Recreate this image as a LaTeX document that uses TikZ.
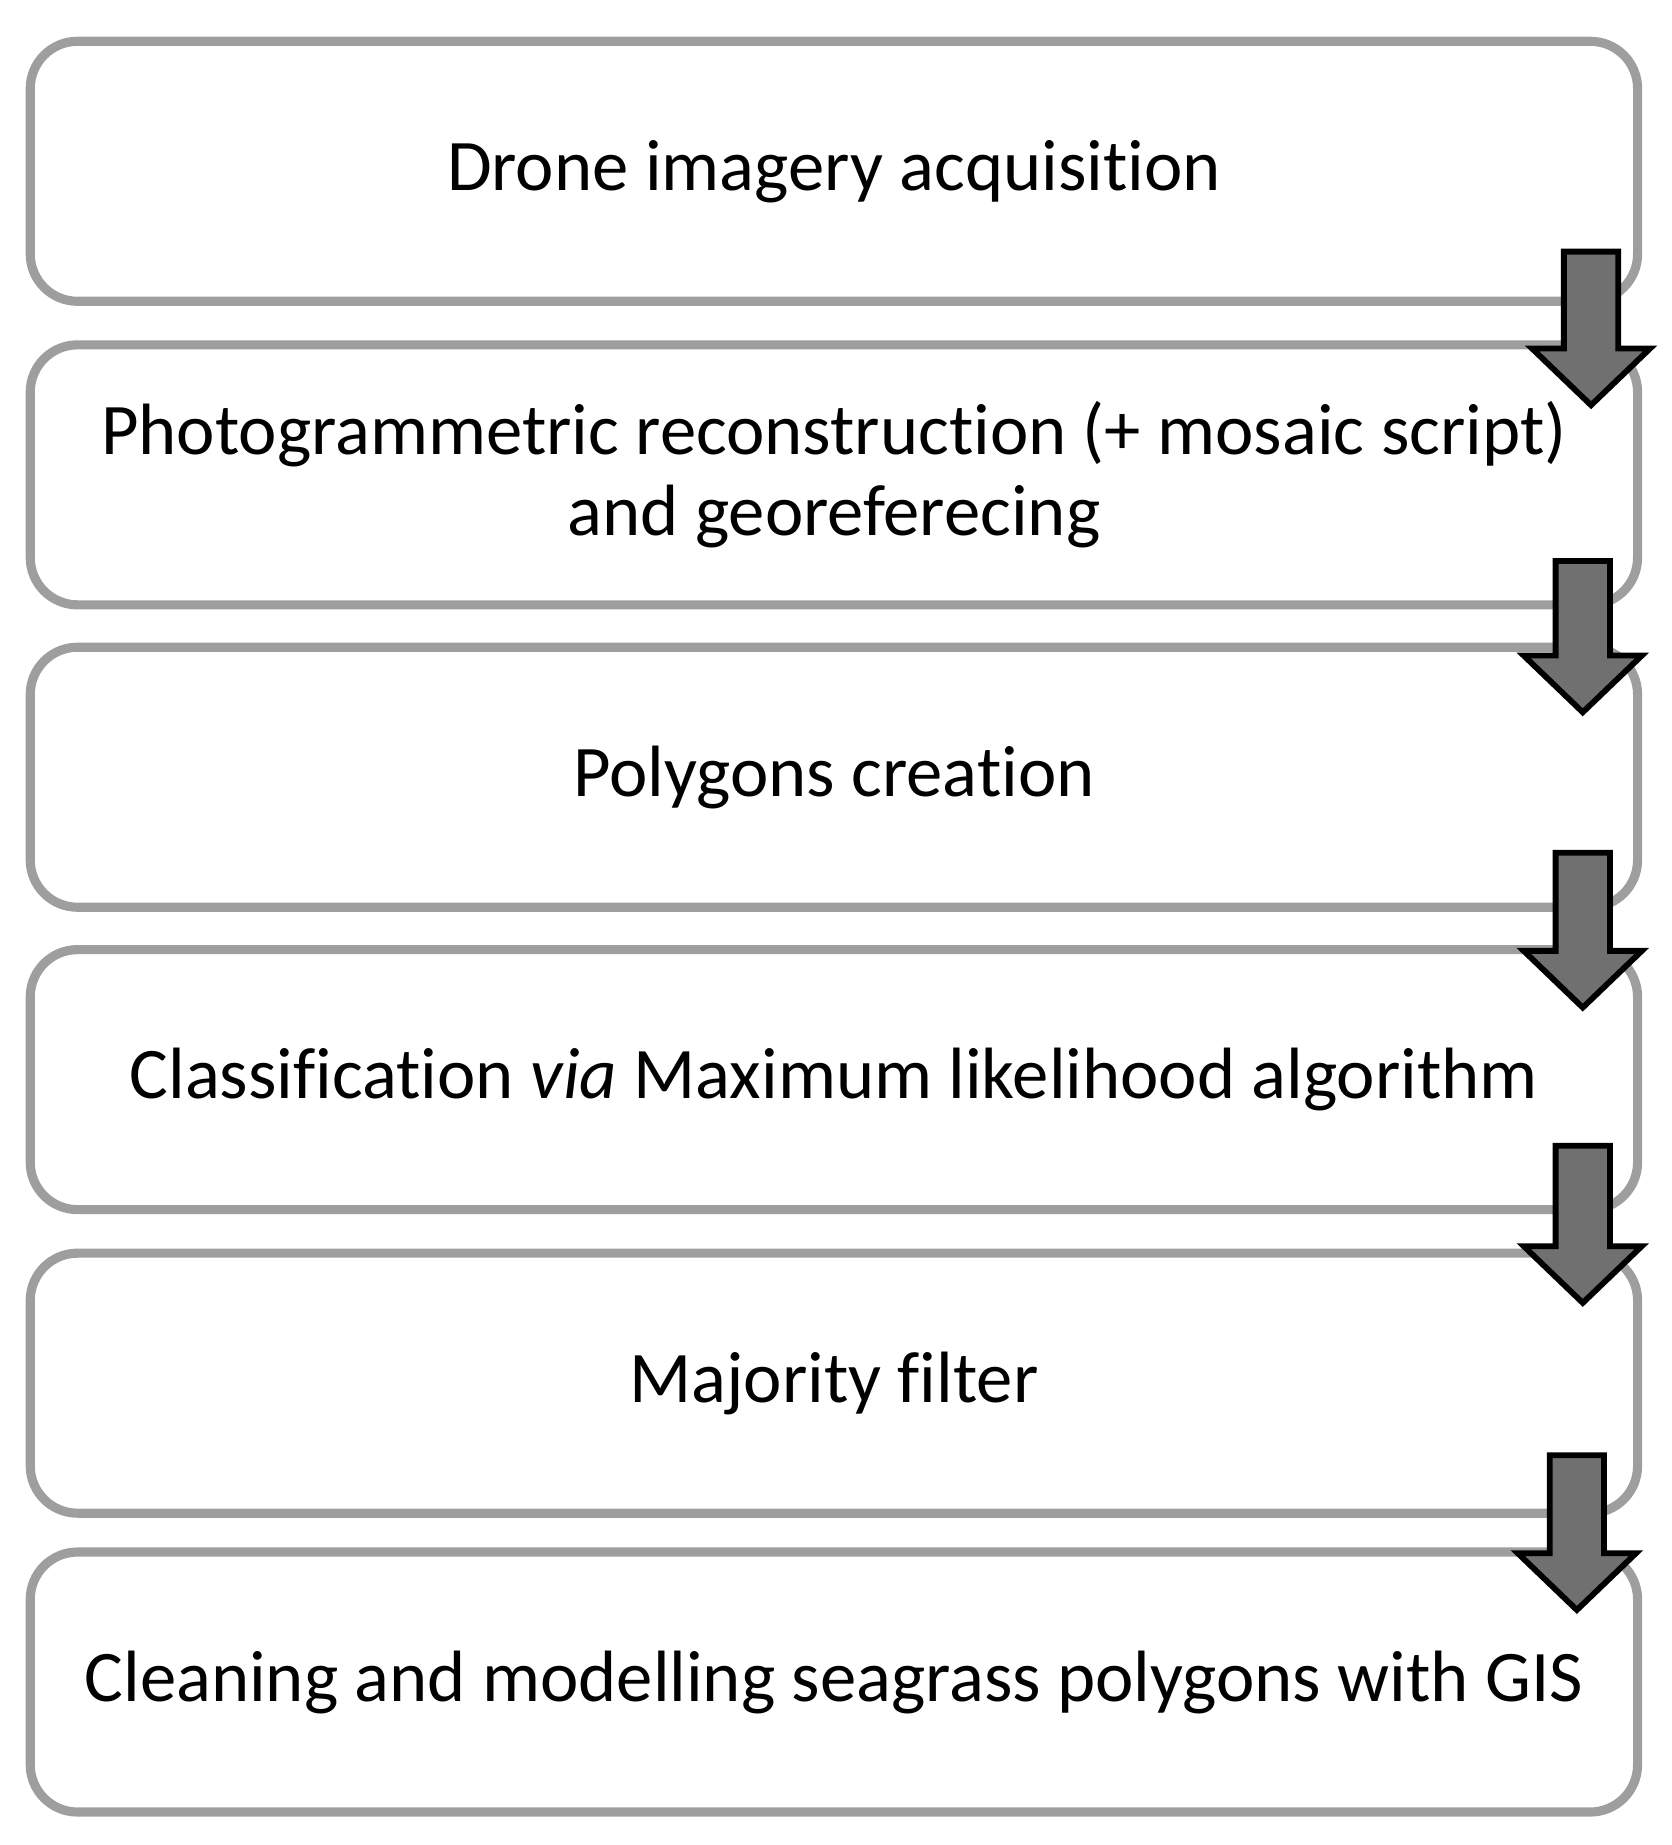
\documentclass[tikz,border=0pt]{standalone}
\usepackage{fontspec}
\setmainfont{Carlito}[Ligatures={NoCommon}]
\begin{document}
\begin{tikzpicture}[x=0.01cm,y=-0.01cm,
  box/.style={draw=black!38,line width=2.2pt,rounded corners=0.4cm,minimum width=13.6cm,minimum height=2.2cm,align=center,font=\fontsize{17.5}{19.5}\selectfont,inner sep=0pt},
  arr/.style={draw=black,line width=1.4pt,fill=black!56}]
\useasboundingbox (0,0) rectangle (1415,1562);
\node[box] (b1) at (706,145) {Drone imagery acquisition};
\node[box] (b2) at (706,402) {Photogrammetric reconstruction (+ mosaic script)\\and georeferecing};
\node[box] (b3) at (706,658) {Polygons creation};
\node[box] (b4) at (706,914) {Classification \textit{via} Maximum likelihood algorithm};
\node[box] (b5) at (706,1171) {Majority filter};
\node[box] (b6) at (706,1424) {Cleaning and modelling seagrass polygons with GIS};
\foreach \cx/\top/\hy [count=\i] in {1347/213/295,1340/475/555,1340/722/805,1340/970/1055,1335/1232/1315}{
  \draw[arr] (\cx-23,\top) -- (\cx+23,\top) -- (\cx+23,\hy) -- (\cx+50,\hy) -- (\cx,\hy+48) -- (\cx-50,\hy) -- (\cx-23,\hy) -- cycle;
}
\end{tikzpicture}
\end{document}
